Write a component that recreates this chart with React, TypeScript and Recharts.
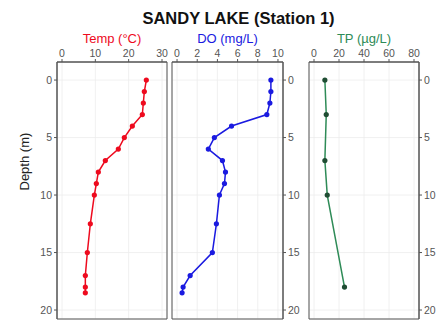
import { LineChart, Line, XAxis, YAxis, CartesianGrid, ReferenceArea } from 'recharts'

const profileDepths = [0, 1, 2, 3, 4, 5, 6, 7, 8, 9, 10, 12.5, 15, 17, 18, 18.5]
const tempValues = [25.3, 24.7, 24.4, 24.1, 21.1, 18.7, 16.9, 13.0, 10.9, 10.3, 9.7, 8.5, 7.6, 7.0, 7.0, 7.0]
const doValues = [9.3, 9.3, 9.2, 8.9, 5.4, 3.7, 3.1, 4.5, 4.8, 4.7, 4.2, 3.9, 3.5, 1.3, 0.6, 0.5]

const tpDepths = [0, 3, 7, 10, 18]
const tpValues = [8.7, 9.8, 8.7, 10.6, 24.4]

const depthTicks = [0, 5, 10, 15, 20]
const tempTicks = [0, 10, 20, 30]
const doTicks = [0, 2, 4, 6, 8, 10]
const tpTicks = [0, 20, 40, 60, 80]

const tempData = profileDepths.map((d, i) => ({ depth: d, value: tempValues[i] }))
const doData = profileDepths.map((d, i) => ({ depth: d, value: doValues[i] }))
const tpData = tpDepths.map((d, i) => ({ depth: d, value: tpValues[i] }))

const FONT = '"Liberation Sans", Arial, sans-serif'
const DEPTH_DOMAIN: [number, number] = [-1.57, 20.78]
const tick = { fontSize: 10.5, fill: '#555', fontFamily: FONT }

interface PanelProps {
  data: { depth: number; value: number }[]
  left: number
  width: number
  margin: { top: number; right: number; bottom: number; left: number }
  xDomain: [number, number]
  xTicks: number[]
  title: string
  color: string
  dotColor: string
  yAxis: 'left' | 'right'
  yWidth: number
}

function Panel({ data, left, width, margin, xDomain, xTicks, title, color, dotColor, yAxis, yWidth }: PanelProps) {
  return (
    <div style={{ position: 'absolute', left, top: 0 }}>
      <LineChart width={width} height={320} layout="vertical" data={data} margin={margin}>
        <CartesianGrid stroke="#ececec" strokeWidth={0.8} />
        <XAxis
          type="number" orientation="top" domain={xDomain} ticks={xTicks} allowDataOverflow
          height={22} tickSize={3} tickMargin={2} tick={tick}
          axisLine={{ stroke: '#555' }} tickLine={{ stroke: '#555' }}
          label={{ value: title, position: 'top', offset: -3, fill: color, fontSize: 13, fontFamily: FONT }}
        />
        <YAxis
          type="number" dataKey="depth" domain={DEPTH_DOMAIN} ticks={depthTicks} allowDataOverflow
          orientation={yAxis} width={yWidth} tickSize={3} tickMargin={2} tick={tick}
          axisLine={{ stroke: '#555' }} tickLine={{ stroke: '#555' }}
          label={yAxis === 'left'
            ? { value: 'Depth (m)', angle: -90, position: 'insideLeft', offset: 24, fill: '#222', fontSize: 13, fontFamily: FONT }
            : undefined}
        />
        <ReferenceArea
          x1={xDomain[0]} x2={xDomain[1]} y1={DEPTH_DOMAIN[0]} y2={DEPTH_DOMAIN[1]}
          fill="none" stroke="#555" strokeWidth={1} ifOverflow="visible"
        />
        <Line
          dataKey="value" stroke={color} strokeWidth={1.5} isAnimationActive={false}
          dot={{ r: 2.6, fill: dotColor, stroke: dotColor, strokeWidth: 0 }}
        />
      </LineChart>
    </div>
  )
}

export default function App() {
  return (
    <div style={{ position: 'absolute', left: 0, top: 0, width: 440, height: 320, background: '#fff', fontFamily: FONT }}>
      <div style={{
        position: 'absolute', left: 0, top: 8, width: 477, textAlign: 'center',
        fontSize: 16.5, fontWeight: 'bold', color: '#111', lineHeight: '20px',
      }}>
        SANDY LAKE (Station 1)
      </div>
      <Panel
        data={tempData} left={0} width={175}
        margin={{ top: 40, right: 8, bottom: 1, left: 0 }}
        xDomain={[-1.5, 31.5]} xTicks={tempTicks}
        title="Temp (°C)" color="#ee0a1e" dotColor="#ee0a1e" yAxis="left" yWidth={57}
      />
      <Panel
        data={doData} left={160} width={150}
        margin={{ top: 40, right: 0, bottom: 1, left: 12 }}
        xDomain={[-0.5, 10.5]} xTicks={doTicks}
        title="DO (mg/L)" color="#1a1ae0" dotColor="#1a1ae0" yAxis="right" yWidth={27}
      />
      <Panel
        data={tpData} left={295} width={145}
        margin={{ top: 40, right: 0, bottom: 1, left: 14 }}
        xDomain={[-4, 84]} xTicks={tpTicks}
        title="TP (µg/L)" color="#2e8b57" dotColor="#1f4d33" yAxis="right" yWidth={21}
      />
    </div>
  )
}
